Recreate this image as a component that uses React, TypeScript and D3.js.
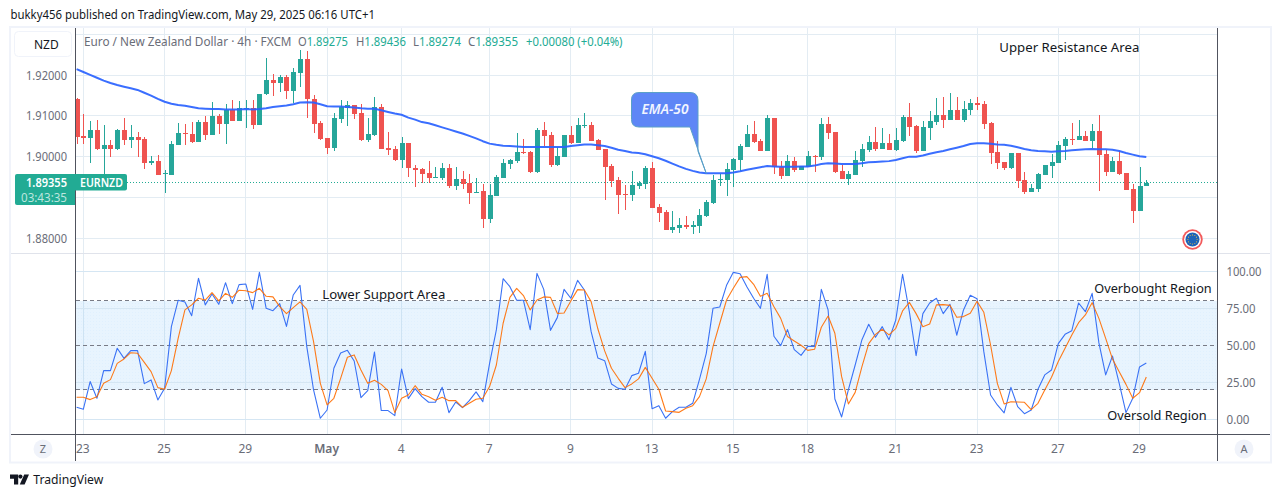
import React from "react";
import * as d3 from "d3";

const opens = [
1.9142,1.9051,1.9046,1.9065,1.9019,1.9028,1.9019,1.9065,1.9041,1.9048,
1.9043,1.8985,1.8989,1.8958,1.8956,1.9029,1.9058,1.9055,1.9036,1.9085,
1.9054,1.9100,1.9080,1.9115,1.9088,1.9118,1.9119,1.9078,1.9154,1.9188,
1.9182,1.9195,1.9161,1.9206,1.9240,1.9141,1.9082,1.9046,1.9021,1.9092,
1.9119,1.9127,1.9107,1.9041,1.9053,1.9121,1.9021,1.9018,1.8991,1.9033,
1.8973,1.8969,1.8959,1.8948,1.8947,1.8972,1.8927,1.8945,1.8935,1.8913,
1.8915,1.8846,1.8903,1.8947,1.8982,1.8989,1.9011,1.9011,1.8962,1.9065,
1.9053,1.8979,1.8999,1.9053,1.9033,1.9075,1.9078,1.9041,1.9018,1.8977,
1.8942,1.8908,1.8905,1.8927,1.8932,1.8972,1.8876,1.8864,1.8819,1.8824,
1.8832,1.8827,1.8829,1.8854,1.8886,1.8943,1.8942,1.8967,1.8991,1.9023,
1.9055,1.9038,1.9014,1.9095,1.8974,1.8952,1.8989,1.8967,1.8974,1.9002,
1.8999,1.9080,1.9060,1.8964,1.8944,1.8954,1.8989,1.9016,1.9035,1.9018,
1.9033,1.9016,1.9038,1.9097,1.9075,1.9013,1.9070,1.9085,1.9102,1.9090,
1.9114,1.9090,1.9114,1.9131,1.9129,1.9082,1.9011,1.8986,1.8972,1.9008,
1.8942,1.8912,1.8920,1.8954,1.8976,1.8984,1.9026,1.9043,1.9040,1.9050,
1.9038,1.9063,1.9006,1.8962,1.8989,1.8959,1.8920,1.8866,1.89275];
const highs = [
1.9143,1.9105,1.9088,1.9090,1.9078,1.9041,1.9067,1.9096,1.9078,1.9061,
1.9048,1.9001,1.9004,1.8968,1.9038,1.9082,1.9081,1.9085,1.9090,1.9100,
1.9134,1.9105,1.9129,1.9139,1.9136,1.9139,1.9139,1.9155,1.9242,1.9203,
1.9200,1.9200,1.9217,1.9262,1.9260,1.9151,1.9087,1.9046,1.9108,1.9139,
1.9137,1.9127,1.9129,1.9095,1.9146,1.9129,1.9060,1.9026,1.9048,1.9033,
1.8979,1.8972,1.8989,1.8974,1.8984,1.8982,1.8974,1.8964,1.8957,1.8947,
1.8932,1.8932,1.8955,1.8994,1.8994,1.9058,1.9043,1.9013,1.9070,1.9085,
1.9060,1.9023,1.9053,1.9075,1.9095,1.9107,1.9085,1.9043,1.9018,1.8982,
1.8950,1.8930,1.8964,1.8940,1.8977,1.8986,1.8883,1.8868,1.8866,1.8849,
1.8854,1.8841,1.8871,1.8893,1.8955,1.8957,1.8984,1.8996,1.9031,1.9078,
1.9087,1.9043,1.9102,1.9095,1.8989,1.9004,1.8999,1.8977,1.9014,1.9004,
1.9095,1.9097,1.9060,1.8979,1.8964,1.9013,1.9031,1.9050,1.9072,1.9070,
1.9055,1.9070,1.9102,1.9131,1.9077,1.9087,1.9112,1.9144,1.9146,1.9156,
1.9146,1.9136,1.9141,1.9146,1.9136,1.9085,1.9038,1.8986,1.9008,1.9008,
1.8962,1.8932,1.8959,1.8979,1.9006,1.9038,1.9048,1.9082,1.9090,1.9063,
1.9080,1.9102,1.9016,1.8999,1.9013,1.8959,1.8932,1.8974,1.89436];
const lows = [
1.9031,1.9031,1.8985,1.9016,1.8957,1.9000,1.9017,1.9028,1.9021,1.8998,
1.8969,1.8979,1.8955,1.8911,1.8955,1.9028,1.9028,1.9034,1.9036,1.9041,
1.9053,1.9055,1.9031,1.9088,1.9088,1.9070,1.9068,1.9078,1.9151,1.9149,
1.9159,1.9141,1.9131,1.9171,1.9096,1.9057,1.9042,1.9006,1.9014,1.9083,
1.9075,1.9092,1.9038,1.9036,1.9050,1.9018,1.9004,1.8989,1.8972,1.8950,
1.8925,1.8936,1.8935,1.8947,1.8942,1.8923,1.8918,1.8920,1.8883,1.8910,
1.8824,1.8836,1.8903,1.8947,1.8969,1.8984,1.9006,1.8959,1.8959,1.9026,
1.8974,1.8977,1.8999,1.9031,1.9033,1.9070,1.9038,1.9016,1.8893,1.8925,
1.8859,1.8868,1.8891,1.8920,1.8920,1.8873,1.8839,1.8819,1.8812,1.8812,
1.8822,1.8809,1.8812,1.8851,1.8883,1.8927,1.8903,1.8925,1.8964,1.9023,
1.9033,1.9014,1.9014,1.8957,1.8945,1.8952,1.8962,1.8967,1.8974,1.8962,
1.8991,1.9043,1.8959,1.8945,1.8930,1.8954,1.8974,1.9011,1.9013,1.9018,
1.9016,1.9013,1.9035,1.9050,1.9008,1.9013,1.9040,1.9077,1.9070,1.9090,
1.9090,1.9085,1.9102,1.9114,1.9067,1.8981,1.8969,1.8967,1.8969,1.8922,
1.8908,1.8912,1.8912,1.8954,1.8947,1.8984,1.8991,1.9028,1.9040,1.9038,
1.9021,1.8915,1.8952,1.8962,1.8954,1.8917,1.8836,1.8866,1.89274];
const closes = [
1.9049,1.9046,1.9065,1.9019,1.9028,1.9019,1.9065,1.9041,1.9048,1.9041,
1.8985,1.8989,1.8955,1.8959,1.9031,1.9057,1.9056,1.9036,1.9085,1.9054,
1.9100,1.9080,1.9115,1.9088,1.9119,1.9119,1.9078,1.9155,1.9188,1.9182,
1.9195,1.9161,1.9207,1.9240,1.9141,1.9080,1.9043,1.9021,1.9095,1.9123,
1.9127,1.9105,1.9041,1.9055,1.9121,1.9019,1.9016,1.8991,1.9033,1.8973,
1.8967,1.8957,1.8947,1.8950,1.8972,1.8927,1.8945,1.8932,1.8910,1.8914,
1.8846,1.8905,1.8950,1.8984,1.8991,1.9011,1.9009,1.8962,1.9065,1.9050,
1.8979,1.9001,1.9053,1.9033,1.9078,1.9077,1.9038,1.9016,1.8974,1.8940,
1.8905,1.8905,1.8930,1.8935,1.8972,1.8873,1.8861,1.8819,1.8827,1.8832,
1.8827,1.8832,1.8856,1.8888,1.8942,1.8945,1.8969,1.8994,1.9026,1.9055,
1.9036,1.9014,1.9095,1.8974,1.8952,1.8989,1.8967,1.8977,1.9001,1.9000,
1.9080,1.9058,1.8962,1.8945,1.8957,1.8991,1.9018,1.9035,1.9018,1.9033,
1.9016,1.9040,1.9097,1.9072,1.9013,1.9072,1.9087,1.9102,1.9090,1.9114,
1.9090,1.9117,1.9131,1.9126,1.9080,1.9008,1.8984,1.8972,1.9008,1.8940,
1.8912,1.8922,1.8957,1.8979,1.8986,1.9028,1.9043,1.9040,1.9050,1.9038,
1.9063,1.9003,1.8962,1.8989,1.8957,1.8917,1.8866,1.8927,1.89355];
const ema50 = [
1.9215,1.9208,1.9201,1.9194,1.9187,1.9181,1.9176,1.9172,1.9168,1.9164,
1.9157,1.9150,1.9142,1.9135,1.9130,1.9127,1.9125,1.9122,1.9119,1.9118,
1.9117,1.9117,1.9116,1.9116,1.9116,1.9117,1.9116,1.9117,1.9119,1.9122,
1.9124,1.9126,1.9129,1.9133,1.9134,1.9133,1.9129,1.9124,1.9123,1.9123,
1.9122,1.9121,1.9119,1.9118,1.9118,1.9114,1.9110,1.9106,1.9103,1.9096,
1.9091,1.9085,1.9082,1.9077,1.9072,1.9067,1.9062,1.9057,1.9051,1.9045,
1.9038,1.9032,1.9029,1.9027,1.9026,1.9025,1.9024,1.9024,1.9024,1.9024,
1.9024,1.9024,1.9024,1.9026,1.9028,1.9030,1.9030,1.9028,1.9026,1.9022,
1.9017,1.9014,1.9010,1.9009,1.9006,1.9001,1.8996,1.8990,1.8983,1.8976,
1.8970,1.8965,1.8961,1.8959,1.8959,1.8959,1.8959,1.8961,1.8964,1.8968,
1.8971,1.8974,1.8977,1.8976,1.8975,1.8975,1.8975,1.8976,1.8976,1.8978,
1.8982,1.8984,1.8983,1.8982,1.8982,1.8982,1.8984,1.8986,1.8987,1.8988,
1.8989,1.8992,1.8996,1.9000,1.9000,1.9003,1.9007,1.9011,1.9014,1.9018,
1.9022,1.9026,1.9031,1.9033,1.9033,1.9032,1.9030,1.9029,1.9027,1.9023,
1.9019,1.9016,1.9014,1.9013,1.9012,1.9013,1.9014,1.9016,1.9017,1.9018,
1.9019,1.9018,1.9018,1.9017,1.9014,1.9009,1.9005,1.9001,1.8999];
const stochK = [
8.1,6.8,25.5,14.2,32.9,32.9,48,41.2,46.4,46.4,
24.1,26.6,13.1,21,62.6,80.4,79.3,70,95.3,77.3,
84.7,77.7,92.3,78.2,91,91.4,74.3,99.3,75,73.4,
78.2,62.8,84,90.5,49.1,19.8,0.7,6.3,34.5,44.8,
46.6,39.4,14.6,19.4,45.5,5.9,5.9,2.5,34,14,
20.7,15.3,11.5,11.5,21.6,4.5,11.7,7.9,12.6,18.5,
11.9,37.8,60.4,95,89.6,80.4,80.4,60.6,98.6,87.8,
60.1,68.7,87.8,81.8,93.9,87.4,59.2,41.4,39.6,23.9,
20.9,20.3,29.5,31.1,45.9,7.2,9.2,0.7,5.2,8.1,
8.1,10.8,27,44.4,75,75.9,90.5,99.3,98.4,89.6,
81.8,75,98,56.1,49.8,60.6,47.1,43.2,49.3,49.3,
87.8,73.9,13.7,1.6,20,36.7,53.8,64.2,55.4,62.6,
53.8,67.1,98,72.7,43,71.4,78.6,81.8,71.4,77.7,
56.8,73.9,83.8,81.5,45.7,16.4,9.7,4.3,21.6,8.6,
3.8,6.3,20.3,30,33.3,51.1,57.4,59.9,78.6,72.7,
85.1,51.6,30,42.8,24.3,4.5,14.2,35.4,38.1];
const stochD = [
14.9,14.9,13.3,15.3,24.3,26.8,37.8,40.8,45,44.6,
38.5,32.2,21.4,20.3,32.9,54.7,73.9,77.3,81.8,80.6,
85.6,80,85.1,82.4,87.2,86.9,85.6,88.5,83.1,82.7,
76.1,71.4,75.5,79.3,74.3,52.5,24.3,9.7,14.2,27.7,
41.9,43.5,33.3,24.3,26.4,23.6,19.4,4.5,14.2,16.4,
22.7,16.9,15.3,12.8,14.9,12.6,12.6,8.1,10.8,13.5,
14.2,22.1,36.7,64.9,82.4,88.5,83.6,73.9,80.6,82.7,
82.4,71.6,71.8,80,87.6,87.4,79.5,61,46.2,34.5,
27.7,21.4,23.9,27.3,35.1,27.7,20.3,5.6,5.2,4.7,
7.4,9.2,15.3,27.3,49.1,64.9,80.6,88.5,95.9,96.4,
91.2,83.1,85.1,76.1,68.2,55.9,52.9,50,46.6,47.3,
62.2,69.8,58.1,28.8,10.4,18.2,35.6,51.1,57.4,60.8,
57,61.5,73.2,79,71.4,62.6,64.4,77.3,77.5,77,
68.9,69.4,71.6,79.7,72.3,50.2,24.3,10.4,11.9,11.7,
11.5,6.5,10.8,19.8,28.4,39,48,57,65.3,70.5,
78.8,68.2,54.7,40.8,32.2,23.6,14.2,18,28.6];

const priceGrid = [1.93, 1.92, 1.91, 1.90, 1.89, 1.88];
const priceLabels = [1.92, 1.91, 1.90, 1.88];
const stochGrid = [100, 75, 25, 0];
const stochLabels = [100, 75, 50, 25, 0];
const stochLevels = [80, 50, 20];
const timeTickIndex = [1, 13, 25, 37, 48, 61, 73, 85, 97, 108, 121, 133, 145, 157];
const timeTickLabel = ["23", "25", "29", "May", "4", "7", "9", "13", "15", "18", "21", "23", "27", "29"];
const lastPrice = 1.89355;
const legendValues = [["O", "1.89275", 298, 50], ["H", "1.89436", 356, 50], ["L", "1.89274", 413, 48], ["C", "1.89355", 468, 50]] as const;

const FONT = "'Noto Sans', 'Open Sans', sans-serif";
const UP = "#26a69a";
const DOWN = "#ef5350";
const GRID = "#e3ecf3";
const AXIS = "#50535e";
const MUTED = "#6a6d78";
const INK = "#131722";
const BAND = "#f0f3fa";

const L = 75.5;
const R = 1217.5;
const T = 28;
const MID = 253.5;
const BOTTOM = 434.5;

const x = d3.scaleLinear().domain([0, 158]).range([76.6, 1146.3]);
const y = d3.scaleLinear().domain([1.92, 1.88]).range([75.3, 238]);
const ys = d3.scaleLinear().domain([100, 0]).range([271.3, 419.3]);
const snap = (v: number) => Math.round(v - 0.5) + 0.5;

const emaPath = d3.line<number>().x((_, i) => x(i)).y((v) => y(v))(ema50) ?? "";
const kPath = d3.line<number>().x((_, i) => x(i)).y((v) => ys(v))(stochK) ?? "";
const dPath = d3.line<number>().x((_, i) => x(i)).y((v) => ys(v))(stochD) ?? "";

const tipX = x(93);
const tipY = y(ema50[93]);

function Txt({ w, ...p }: any) {
  const fit = w ? { textLength: w, lengthAdjust: "spacingAndGlyphs" } : {};
  return <text fontFamily={FONT} fill={INK} {...fit} {...p} />;
}

export default function App() {
  return (
    <svg
      width={1281}
      height={497}
      viewBox="0 0 1281 497"
      style={{ position: "absolute", left: 0, top: 0, display: "block", background: "#fff" }}
    >
      <defs>
        <clipPath id="mainClip">
          <rect x={76} y={T} width={R - 76} height={MID - T} />
        </clipPath>
        <clipPath id="lowClip">
          <rect x={76} y={MID} width={R - 76} height={BOTTOM - MID} />
        </clipPath>
        <pattern id="dots" width={3} height={3} patternUnits="userSpaceOnUse">
          <rect x={0} y={0} width={1} height={1} fill="#2196f3" opacity={0.04} />
        </pattern>
      </defs>

      <Txt x={10.5} y={19} fontSize={13} w={364.5}>bukky456 published on TradingView.com, May 29, 2025 06:16 UTC+1</Txt>

      <rect x={10} y={27} width={1261} height={435.5} fill="#fff" stroke={BAND} strokeWidth={2} />

      {/* grid */}
      <g shapeRendering="crispEdges" stroke={GRID} strokeWidth={1}>
        {timeTickIndex.map((t) => (
          <line key={t} x1={snap(x(t))} x2={snap(x(t))} y1={T} y2={BOTTOM} />
        ))}
        {priceGrid.map((p) => (
          <line key={p} x1={L} x2={R} y1={snap(y(p))} y2={snap(y(p))} />
        ))}
      </g>

      {/* stochastic band */}
      <rect x={76} y={ys(80)} width={R - 76} height={ys(20) - ys(80)} fill="#2196f3" fillOpacity={0.1} shapeRendering="crispEdges" />
      <rect x={76} y={ys(80)} width={R - 76} height={ys(20) - ys(80)} fill="url(#dots)" shapeRendering="crispEdges" />
      <g shapeRendering="crispEdges" stroke="#d5e6f3" strokeWidth={1}>
        {stochGrid.map((v) => (
          <line key={v} x1={L} x2={R} y1={snap(ys(v))} y2={snap(ys(v))} />
        ))}
      </g>
      <g shapeRendering="crispEdges" stroke="#787b86" strokeWidth={1} strokeDasharray="4 3">
        {stochLevels.map((v) => (
          <line key={v} x1={76} x2={R} y1={snap(ys(v))} y2={snap(ys(v))} />
        ))}
      </g>

      {/* last price line */}
      <line x1={76} x2={R} y1={snap(y(lastPrice))} y2={snap(y(lastPrice))} stroke="#22ab94" strokeWidth={1} strokeDasharray="1 2" shapeRendering="crispEdges" />

      {/* candles */}
      <g clipPath="url(#mainClip)" shapeRendering="crispEdges">
        {opens.map((o, i) => {
          const c = closes[i];
          const color = c >= o ? UP : DOWN;
          const cx = Math.round(x(i));
          const top = Math.round(y(Math.max(o, c)));
          const bot = Math.round(y(Math.min(o, c)));
          return (
            <g key={i} fill={color}>
              <rect x={cx - 0.5} y={y(highs[i])} width={1} height={Math.max(1, y(lows[i]) - y(highs[i]))} />
              <rect x={cx - 2.5} y={top} width={5} height={Math.max(1, bot - top)} />
            </g>
          );
        })}
      </g>

      <path d={emaPath} fill="none" stroke="#2962ff" strokeWidth={2} strokeOpacity={0.92} clipPath="url(#mainClip)" strokeLinejoin="round" />

      {/* stochastic lines */}
      <g clipPath="url(#lowClip)" fill="none" strokeLinejoin="round">
        <path d={kPath} stroke="#3a72f5" strokeWidth={1.1} />
        <path d={dPath} stroke="#ff6d00" strokeWidth={1.1} strokeOpacity={0.9} />
      </g>

      {/* callout */}
      <path
        d={`M639 92.5 H690 Q698 92.5 698 100.5 V${tipY - 22} L${tipX} ${tipY} L690 127 H639 Q631.5 127 631.5 119.5 V100 Q631.5 92.5 639 92.5 Z`}
        fill="#5e86f6"
        stroke="#5aa0c8"
        strokeWidth={1}
      />
      <Txt x={665} y={114} fontSize={14} fontStyle="italic" fontWeight={600} fill="#f2f5ff" textAnchor="middle" w={47}>EMA-50</Txt>

      {/* panel frame lines */}
      <g shapeRendering="crispEdges" strokeWidth={1}>
        <line x1={11} x2={1270} y1={MID} y2={MID} stroke="#e0e3eb" />
        <line x1={11} x2={1270} y1={BOTTOM} y2={BOTTOM} stroke={AXIS} />
        <line x1={L} x2={L} y1={T} y2={461} stroke={AXIS} />
        <line x1={R} x2={R} y1={T} y2={461} stroke={AXIS} />
      </g>

      {/* legend */}
      <Txt x={84} y={46} fontSize={12} fill={MUTED} w={207.5}>Euro / New Zealand Dollar · 4h · FXCM</Txt>
      {legendValues.map(([k, v, px, w]) => (
        <text key={k} x={px} y={46} fontSize={12} fontFamily={FONT} textLength={w} lengthAdjust="spacingAndGlyphs">
          <tspan fill={MUTED}>{k}</tspan>
          <tspan fill="#22ab94">{v}</tspan>
        </text>
      ))}
      <Txt x={526} y={46} fontSize={12} fill="#22ab94" w={96.5}>+0.00080 (+0.04%)</Txt>

      {/* NZD button */}
      <rect x={14.5} y={31.5} width={57} height={25} rx={4} fill="#fff" stroke={BAND} />
      <Txt x={34} y={48.5} fontSize={12}>
        NZD
      </Txt>

      {/* price labels */}
      {priceLabels.map((p) => (
        <Txt key={p} x={67} y={y(p) + 4.5} fontSize={12} fill={MUTED} textAnchor="end" w={41}>
          {p.toFixed(5)}
        </Txt>
      ))}
      <path d="M17 174 H75 V205 H17 Q15 205 15 203 V176 Q15 174 17 174 Z" fill="#22ab94" />
      <path d="M75 174 H125 Q127 174 127 176 V188.5 Q127 190.5 125 190.5 H75 Z" fill="#22ab94" />
      <Txt x={67} y={187} fontSize={12} fontWeight={600} fill="#fff" textAnchor="end" w={41}>{lastPrice.toFixed(5)}</Txt>
      <Txt x={67} y={201.5} fontSize={12} fill="#bde6df" textAnchor="end" w={46}>03:43:35</Txt>
      <Txt x={80} y={187} fontSize={12} fontWeight={600} fill="#fff" w={43}>EURNZD</Txt>

      {/* stochastic labels */}
      {stochLabels.map((v) => (
        <Txt key={v} x={1226.5} y={ys(v) + 4.5} fontSize={12} fill={MUTED} w={v === 100 ? 35 : v === 0 ? 23 : 29}>{v.toFixed(2)}</Txt>
      ))}

      {/* time labels */}
      {timeTickIndex.map((t, i) => (
        <Txt key={t} x={x(t) - 0.5} y={453} fontSize={12} fill={MUTED} textAnchor="middle" fontWeight={timeTickLabel[i] === "May" ? 600 : 400}>
          {timeTickLabel[i]}
        </Txt>
      ))}

      {/* annotations */}
      <Txt x={999.3} y={52} fontSize={13.2} w={140}>Upper Resistance Area</Txt>
      <Txt x={322.3} y={299} fontSize={13.2} w={123}>Lower Support Area</Txt>
      <Txt x={1094.3} y={293} fontSize={13.2} w={117.4}>Overbought Region</Txt>
      <Txt x={1107.3} y={420} fontSize={13.2} w={99.4}>Oversold Region</Txt>

      {/* flag */}
      <circle cx={1192.5} cy={239.5} r={10.2} fill="#f2595a" />
      <circle cx={1192.5} cy={239.5} r={8.4} fill="#fff" />
      <circle cx={1192.5} cy={239.5} r={7} fill="#1d63b8" />
      {d3.range(12).map((k) => (
        <circle
          key={k}
          cx={1192.5 + 4.6 * Math.cos((k * Math.PI) / 6)}
          cy={239.5 + 4.6 * Math.sin((k * Math.PI) / 6)}
          r={0.6}
          fill="#d9b24a"
        />
      ))}

      {/* scale buttons */}
      <circle cx={43} cy={449} r={9.5} fill={BAND} />
      <Txt x={43} y={453} fontSize={11} fill={MUTED} textAnchor="middle">Z</Txt>
      <circle cx={1244} cy={449} r={9.5} fill={BAND} />
      <Txt x={1244} y={453} fontSize={11} fill={MUTED} textAnchor="middle">A</Txt>

      {/* footer logo */}
      <path d="M10 474.5 H18.2 V484.5 H14 V478.7 H10 Z" fill={INK} />
      <circle cx={20.4} cy={476.6} r={2.1} fill={INK} />
      <path d="M24.2 474.5 H29 L24.6 484.5 H19.8 Z" fill={INK} />
      <Txt x={33.3} y={484} fontSize={13.2} w={70}>TradingView</Txt>
    </svg>
  );
}
